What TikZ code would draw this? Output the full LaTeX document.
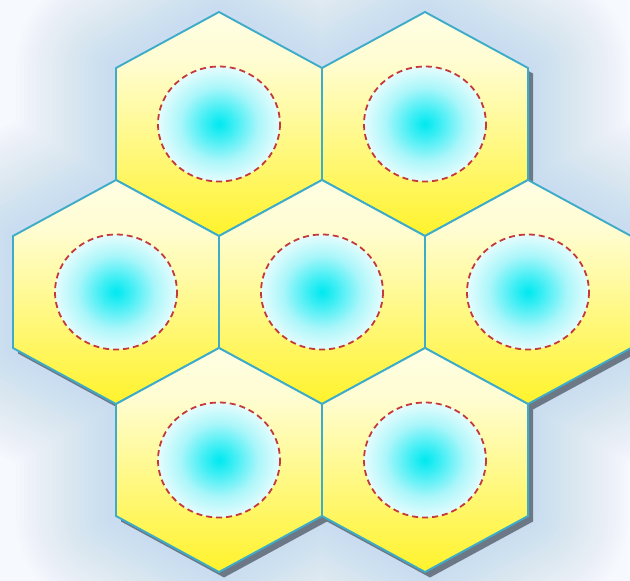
\documentclass[tikz,border=0pt]{standalone}
\definecolor{bgc}{RGB}{246,249,253}
\definecolor{glowc}{RGB}{165,200,240}
\definecolor{shadowc}{RGB}{108,120,134}
\definecolor{edgec}{RGB}{62,172,200}
\definecolor{hexa}{RGB}{255,238,0}
\definecolor{hexb}{RGB}{255,242,30}
\definecolor{hexc}{RGB}{255,248,125}
\definecolor{hexd}{RGB}{255,253,210}
\definecolor{hexe}{RGB}{255,255,243}
\definecolor{hexf}{RGB}{255,255,253}
\definecolor{cyanc}{RGB}{0,232,240}
\definecolor{cyand}{RGB}{60,238,244}
\definecolor{cyane}{RGB}{170,246,250}
\definecolor{dashc}{RGB}{196,58,58}
\pgfdeclareradialshading{coreshade}{\pgfpoint{0bp}{0bp}}{color(0bp)=(cyanc); color(6bp)=(cyand); color(16bp)=(cyane); color(29bp)=(white); color(50bp)=(white)}
\pgfdeclareverticalshading{cellshade}{100bp}{color(0bp)=(hexa); color(22bp)=(hexb); color(44bp)=(hexc); color(64bp)=(hexd); color(84bp)=(hexe); color(100bp)=(hexf)}
\tikzset{
  hexcell/.style={draw=edgec, line width=1.9pt, line join=miter, shading=cellshade},
  core/.style={draw=dashc, line width=1.8pt, dash pattern=on 6pt off 4pt, shading=coreshade},
  glowline/.style={draw=glowc, opacity=0.022, line join=round},
  shadowfill/.style={fill=shadowc, draw=none}
}
\newcommand{\hexat}[2]{(#1,#2-112) -- (#1+103,#2-56) -- (#1+103,#2+56) -- (#1,#2+112) -- (#1-103,#2+56) -- (#1-103,#2-56) -- cycle}
\newcommand{\silhouette}{(219,12) -- (322,68) -- (425,12) -- (528,68) -- (528,180) -- (631,236) -- (631,348) -- (528,404) -- (528,516) -- (425,572) -- (322,516) -- (219,572) -- (116,516) -- (116,404) -- (13,348) -- (13,236) -- (116,180) -- (116,68) -- cycle}
\begin{document}
\begin{tikzpicture}[x=1pt,y=-1pt]
  \useasboundingbox (0,0) rectangle (630,581);
  \clip (0,0) rectangle (630,581);
  \fill[bgc] (0,0) rectangle (630,581);
  % soft blue glow around the cluster
  \foreach \w in {200,192,...,8}{
    \draw[glowline, line width=\w pt] \silhouette;
  }
  % drop shadow
  \begin{scope}[shift={(5,5.5)}]
    \fill[shadowfill] \silhouette;
  \end{scope}
  % hexagons
  \foreach \cx/\cy [count=\i] in {219/124, 425/124, 116/292, 322/292, 528/292, 219/460, 425/460}{
    \path[hexcell] \hexat{\cx}{\cy};
  }
  % cores
  \foreach \cx/\cy [count=\i] in {219/124, 425/124, 116/292, 322/292, 528/292, 219/460, 425/460}{
    \path[core] (\cx,\cy) ellipse [x radius=61, y radius=57.5];
  }
\end{tikzpicture}
\end{document}
